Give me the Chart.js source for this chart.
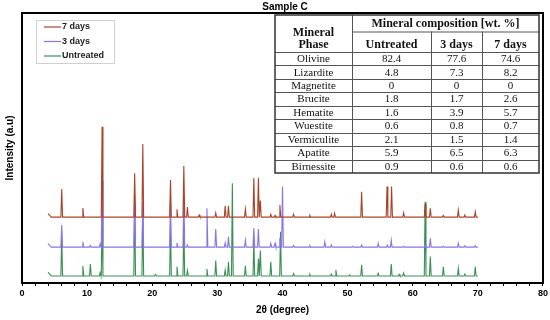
<!DOCTYPE html>
<html>
<head>
<meta charset="utf-8">
<script src="https://cdn.jsdelivr.net/npm/chart.js@4.4.0/dist/chart.umd.min.js"></script>
<style>
  html, body { margin: 0; padding: 0; background: #fff; }
  #wrap { width: 550px; height: 320px; position: relative; }
</style>
</head>
<body>
<div id="wrap"><canvas id="xrd" width="550" height="320"></canvas></div>
<script>
// series names (legend order)
const seriesNames = ['7 days', '3 days', 'Untreated'];
const seriesColors = ['#a8432a', '#8a73e6', '#3b8f52'];

// baselines of the stacked patterns (arbitrary intensity units)
const baselines = [24.4, 13.3, 2.6];

// 7 days: peak positions (2θ) and peak intensities
const theta7 = [6.1, 9.35, 12.3, 17.3, 18.55, 22.8, 23.8, 24.85, 25.4, 27.2, 29.75, 31.2, 31.7, 34.3, 35.6, 36.3, 36.6, 38.2, 38.85, 39.6, 41.7, 44.2, 47.5, 48.0, 52.15, 56.05, 56.75, 58.6, 61.9, 62.7, 64.7, 67.0, 68.0, 69.6];
const int7   = [34.8, 27.8, 57.9, 40.6, 51.5, 38.1, 27.3, 43.3, 28.1, 25.2, 26.0, 28.6, 28.6, 27.4, 38.9, 38.9, 30.5, 25.5, 25.0, 28.9, 25.5, 25.0, 25.5, 25.8, 33.8, 35.7, 35.7, 26.0, 29.2, 27.7, 25.0, 27.0, 25.2, 26.4];

// 3 days
const theta3 = [6.1, 9.35, 10.5, 12.0, 12.3, 17.3, 18.55, 22.8, 23.8, 24.85, 25.4, 28.4, 29.75, 31.2, 31.7, 34.3, 35.6, 36.3, 38.2, 38.85, 39.6, 40.0, 41.7, 44.2, 46.5, 47.5, 50.8, 52.15, 54.7, 56.1, 56.7, 58.6, 61.9, 62.7, 64.7, 67.0, 68.0, 69.6];
const int3   = [21.5, 15.2, 13.9, 14.5, 38.0, 33.0, 30.0, 30.0, 14.9, 32.0, 14.1, 27.7, 20.0, 14.9, 17.1, 15.9, 20.4, 20.0, 14.7, 14.7, 16.7, 35.7, 13.9, 13.8, 15.3, 14.1, 13.6, 14.1, 14.7, 14.1, 15.9, 13.6, 14.1, 16.6, 13.6, 14.7, 13.8, 13.8];

// Untreated
const thetaU = [6.1, 9.35, 10.5, 12.0, 12.3, 17.3, 18.55, 20.5, 22.8, 23.8, 24.85, 25.4, 28.4, 29.75, 31.2, 31.7, 32.3, 34.3, 35.6, 36.3, 36.6, 38.2, 39.7, 41.7, 44.2, 47.5, 48.2, 50.3, 52.15, 54.7, 56.7, 57.9, 58.6, 61.9, 62.7, 64.7, 67.0, 68.0, 69.6];
const intU   = [17.8, 6.3, 7.0, 3.8, 25.0, 30.0, 28.0, 3.2, 22.0, 6.0, 22.0, 4.6, 5.2, 8.3, 4.8, 7.9, 36.9, 6.4, 16.0, 9.0, 12.0, 7.9, 19.0, 3.5, 3.2, 3.3, 4.8, 3.0, 6.7, 3.6, 7.0, 3.2, 3.7, 30.0, 9.8, 6.0, 5.4, 3.3, 6.0];

// x axis
const xMin = 0, xMax = 80, xStep = 2, xLabelEvery = 10;

// table data
const tableHeader = 'Mineral composition [wt. %]';
const tableCols = ['Untreated', '3 days', '7 days'];
const phases = ['Olivine', 'Lizardite', 'Magnetite', 'Brucite', 'Hematite', 'Wuestite', 'Vermiculite', 'Apatite', 'Birnessite'];
const wtUntreated = ['82.4', '4.8', '0', '1.8', '1.6', '0.6', '2.1', '5.9', '0.9'];
const wt3days = ['77.6', '7.3', '0', '1.7', '3.9', '0.8', '1.5', '6.5', '0.6'];
const wt7days = ['74.6', '8.2', '0', '2.6', '5.7', '0.7', '1.4', '6.3', '0.6'];

// build line points: flat baseline with narrow peaks
function buildPattern(base, pos, hgt) {
    const pts = [{x: 4.0, y: base + 1.3}, {x: 4.5, y: base}];
    pos.forEach((p, i) => {
        pts.push({x: p - 0.13, y: base});
        pts.push({x: p, y: hgt[i]});
        pts.push({x: p + 0.13, y: base});
    });
    pts.push({x: 70.0, y: base});
    return pts;
}

const patterns = [
    buildPattern(baselines[0], theta7, int7),
    buildPattern(baselines[1], theta3, int3),
    buildPattern(baselines[2], thetaU, intU)
];

// frame, legend, title and table
const decorations = {
    id: 'decorations',
    afterDatasetsDraw(chart) {
        const c = chart.ctx;
        const a = chart.chartArea;
        c.save();

        // plot frame
        c.strokeStyle = '#000';
        c.lineWidth = 2;
        c.strokeRect(a.left, a.top, a.right - a.left, a.bottom - a.top);

        // title
        c.fillStyle = '#000';
        c.font = 'bold 10px "Liberation Sans", Arial, sans-serif';
        c.textAlign = 'center';
        c.textBaseline = 'middle';
        c.fillText('Sample C', 285, 7);

        // legend
        c.fillStyle = '#fff';
        c.fillRect(36, 20, 78, 43);
        c.strokeStyle = '#d0d0d0';
        c.lineWidth = 1;
        c.strokeRect(36.5, 20.5, 78, 43);
        c.font = 'bold 9px "Liberation Sans", Arial, sans-serif';
        c.textAlign = 'left';
        seriesNames.forEach((name, i) => {
            const y = 27 + i * 14.5;
            c.strokeStyle = seriesColors[i];
            c.lineWidth = 1.2;
            c.beginPath();
            c.moveTo(44, y);
            c.lineTo(61, y);
            c.stroke();
            c.fillStyle = '#222';
            c.fillText(name, 62, y);
        });

        // table
        const L = 275, R = 539, T = 15, B = 173;
        const cols = [L, 352, 431, 482, R];
        const head1 = 31.5, head2 = 52;
        const rowH = (B - head2) / phases.length;
        c.fillStyle = '#fff';
        c.fillRect(L, T, R - L, B - T);
        c.strokeStyle = '#555';
        c.lineWidth = 1;
        c.beginPath();
        c.moveTo(cols[1], head1 + 0.5); c.lineTo(R, head1 + 0.5);
        for (let i = 0; i < phases.length; i++) {
            const y = Math.round(head2 + i * rowH) + 0.5;
            c.moveTo(L, y); c.lineTo(R, y);
        }
        c.moveTo(cols[1] + 0.5, T); c.lineTo(cols[1] + 0.5, B);
        c.moveTo(cols[2] + 0.5, head1); c.lineTo(cols[2] + 0.5, B);
        c.moveTo(cols[3] + 0.5, head1); c.lineTo(cols[3] + 0.5, B);
        c.stroke();
        c.strokeStyle = '#333';
        c.lineWidth = 1.5;
        c.strokeRect(L, T, R - L, B - T);

        c.fillStyle = '#111';
        c.textAlign = 'center';
        c.font = 'bold 12px "Liberation Serif", "Times New Roman", serif';
        c.fillText(tableHeader, (cols[1] + R) / 2, 24);
        c.fillText('Mineral', (L + cols[1]) / 2, 32.5);
        c.fillText('Phase', (L + cols[1]) / 2, 44.5);
        tableCols.forEach((t, i) => {
            c.fillText(t, (cols[i + 1] + cols[i + 2]) / 2, 44.5);
        });
        c.font = '11px "Liberation Serif", "Times New Roman", serif';
        const colsData = [phases, wtUntreated, wt3days, wt7days];
        for (let r = 0; r < phases.length; r++) {
            const y = head2 + r * rowH + rowH / 2 + 0.5;
            colsData.forEach((arr, k) => {
                c.fillText(arr[r], (cols[k] + cols[k + 1]) / 2, y);
            });
        }
        c.restore();
    }
};

const ctx = document.getElementById('xrd').getContext('2d');
new Chart(ctx, {
    type: 'line',
    data: {
        datasets: patterns.map((pts, i) => ({
            label: seriesNames[i],
            data: pts,
            borderColor: seriesColors[i],
            borderWidth: 1.1,
            pointRadius: 0,
            tension: 0,
            fill: false
        }))
    },
    options: {
        responsive: false,
        animation: false,
        layout: { padding: { top: 13, right: 7, left: 0, bottom: 0 } },
        plugins: {
            legend: { display: false },
            tooltip: { enabled: false }
        },
        scales: {
            x: {
                type: 'linear',
                min: xMin,
                max: xMax,
                afterFit: scale => { scale.height = 37; },
                border: { display: false },
                grid: { display: true, drawOnChartArea: false, drawTicks: true, tickLength: 3, color: '#000' },
                ticks: {
                    stepSize: xStep,
                    autoSkip: false,
                    maxRotation: 0,
                    padding: 2,
                    color: '#000',
                    font: { family: '"Liberation Sans", Arial, sans-serif', size: 9, weight: 'bold' },
                    callback: v => (v % xLabelEvery === 0 ? v : '')
                },
                title: {
                    display: true,
                    text: '2θ (degree)',
                    color: '#000',
                    padding: { top: 0, bottom: 4 },
                    font: { family: '"Liberation Sans", Arial, sans-serif', size: 10, weight: 'bold' }
                }
            },
            y: {
                min: 0,
                max: 100,
                afterFit: scale => { scale.width = 22; },
                border: { display: false },
                grid: { display: false },
                ticks: { display: false },
                title: {
                    display: true,
                    text: 'Intensity (a.u)',
                    color: '#000',
                    padding: { top: 4, bottom: 0 },
                    font: { family: '"Liberation Sans", Arial, sans-serif', size: 10, weight: 'bold' }
                }
            }
        }
    },
    plugins: [decorations]
});
</script>
</body>
</html>
